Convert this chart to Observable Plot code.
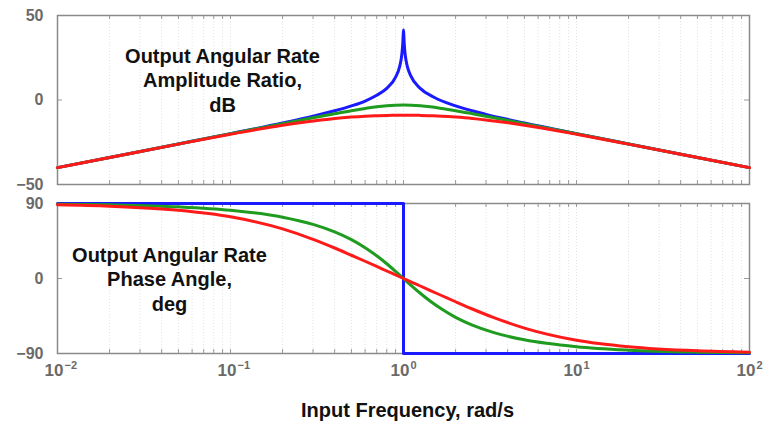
<!DOCTYPE html>
<html>
<head>
<meta charset="utf-8">
<script src="https://cdn.jsdelivr.net/npm/d3@7"></script>
<script src="https://cdn.jsdelivr.net/npm/@observablehq/plot@0.6"></script>
<style>
  html, body { margin: 0; padding: 0; background: #fff; }
  #chart { width: 765px; height: 421px; position: relative; }
  #chart svg { display: block; overflow: visible; }
</style>
</head>
<body>
<div id="chart"></div>
<script>
// ---------- data ----------
const freqBlue = [0.01,0.02,0.05,0.1,0.2,0.3,0.4,0.5,0.6,0.7,0.8,0.9,0.95,0.97,0.98,0.99,0.995,1,1.005,1.01,1.02,1.03,1.05,1.1,1.25,1.5,2,3,5,10,20,50,100];
const ampBlue  = [-40.0,-34.0,-26.0,-19.9,-13.6,-9.6,-6.4,-3.5,-0.6,2.8,6.9,13.5,19.8,24.3,27.9,33.2,37.6,41.4,37.6,33.3,27.9,24.6,20.2,14.4,6.9,1.6,-3.5,-8.5,-13.6,-19.9,-26.0,-34.0,-40.0];

const freq      = [0.01,0.02,0.05,0.1,0.2,0.3,0.4,0.5,0.6,0.7,0.8,0.9,1,1.11,1.25,1.43,1.67,2,2.5,3.33,5,10,20,50,100];
const ampGreen  = [-40.0,-34.0,-26.0,-20.0,-14.0,-10.5,-8.1,-6.3,-5.0,-4.0,-3.4,-3.1,-3.0,-3.1,-3.4,-4.0,-5.0,-6.3,-8.1,-10.5,-14.0,-20.0,-26.0,-34.0,-40.0];
const ampRed    = [-40.0,-34.0,-26.1,-20.3,-14.9,-12.4,-10.9,-10.1,-9.6,-9.3,-9.1,-9.05,-9.0,-9.05,-9.1,-9.3,-9.6,-10.1,-10.9,-12.4,-14.9,-20.3,-26.1,-34.0,-40.0];
const phaseGreen = [89.2,88.4,86.0,81.9,73.6,65.0,56.0,46.7,37.0,27.3,17.7,8.5,0,-8.5,-17.7,-27.3,-37.0,-46.7,-56.0,-65.0,-73.6,-81.9,-86.0,-88.4,-89.2];
const phaseRed   = [88.4,86.8,81.9,74.1,59.5,47.0,36.6,27.9,20.7,14.5,9.0,4.3,0,-4.3,-9.0,-14.5,-20.7,-27.9,-36.6,-47.0,-59.5,-74.1,-81.9,-86.8,-88.4];

const freqBluePhase = [0.01, 1, 1, 100];
const phaseBlue     = [90, 90, -90, -90];

const ampTicks   = [-50, 0, 50];
const phaseTicks = [-90, 0, 90];
const xMajors    = [0.01, 0.1, 1, 10, 100];
const xExponents = ["\u22122", "\u22121", "0", "1", "2"];
const ampNote    = "Output Angular Rate\nAmplitude Ratio,\ndB";
const phaseNote  = "Output Angular Rate\nPhase Angle,\ndeg";
const xTitle     = "Input Frequency, rad/s";

// ---------- styling ----------
const FONT = "'Liberation Sans', Arial, Helvetica, sans-serif";
const C_BLUE = "#1a1aff", C_GREEN = "#1f9b1f", C_RED = "#ff1a1a";
const W = 765, ML = 57, MR = 16;
const FW = W - ML - MR;
const allTicks = d3.scaleLog().domain([0.01, 100]).ticks();
const fmt = d => d < 0 ? "\u2212" + (-d) : String(d);

const toRows = (xs, ys) => xs.map((x, i) => ({x, y: ys[i]}));

function commonMarks(H, yTicks) {
  return [
    Plot.ruleX(allTicks, {x: d => d, stroke: "#e2e2e2", strokeWidth: 1, strokeDasharray: "1,2"}),
    Plot.tickX(allTicks, {x: d => d, insetBottom: H - 4, stroke: "#9a9a9a"}),
    Plot.tickX(allTicks, {x: d => d, insetTop: H - 4, stroke: "#9a9a9a"}),
    Plot.tickY(yTicks, {y: d => d, insetRight: FW - 5, stroke: "#9a9a9a"}),
    Plot.tickY(yTicks, {y: d => d, insetLeft: FW - 5, stroke: "#9a9a9a"}),
    Plot.frame({stroke: "#8a8a8a", strokeWidth: 1.5}),
    Plot.axisY(yTicks, {anchor: "left", tickSize: 0, tickPadding: 14, tickFormat: fmt,
      fill: "#6a6a6a", fontSize: 16, fontWeight: "bold", label: null})
  ];
}

// ---------- top panel: amplitude ratio ----------
const topH = 190, topMT = 15, topMB = 6;
const ampPlot = Plot.plot({
  width: W, height: topH,
  marginLeft: ML, marginRight: MR, marginTop: topMT, marginBottom: topMB,
  style: {fontFamily: FONT, background: "transparent", overflow: "visible"},
  x: {type: "log", domain: [0.01, 100], axis: null},
  y: {domain: [-50, 50], axis: null},
  marks: [
    ...commonMarks(topH - topMT - topMB, ampTicks),
    Plot.line(toRows(freqBlue, ampBlue), {x: "x", y: "y", stroke: C_BLUE, strokeWidth: 3, curve: "monotone-x"}),
    Plot.line(toRows(freq, ampGreen), {x: "x", y: "y", stroke: C_GREEN, strokeWidth: 3, curve: "monotone-x"}),
    Plot.line(toRows(freq, ampRed), {x: "x", y: "y", stroke: C_RED, strokeWidth: 3, curve: "monotone-x"}),
    Plot.text([ampNote], {text: d => d, frameAnchor: "top-left", lineAnchor: "top", textAnchor: "middle",
      dx: 165, dy: 30, fontSize: 20, fontWeight: "bold", fill: "#111", lineHeight: 1.22})
  ]
});

// ---------- bottom panel: phase angle ----------
const botH = 231, botMT = 13, botMB = 68;
const phasePlot = Plot.plot({
  width: W, height: botH,
  marginLeft: ML, marginRight: MR, marginTop: botMT, marginBottom: botMB,
  style: {fontFamily: FONT, background: "transparent", overflow: "visible"},
  x: {type: "log", domain: [0.01, 100], axis: null},
  y: {domain: [-90, 90], axis: null},
  marks: [
    ...commonMarks(botH - botMT - botMB, phaseTicks),
    Plot.line(toRows(freqBluePhase, phaseBlue), {x: "x", y: "y", stroke: C_BLUE, strokeWidth: 3}),
    Plot.line(toRows(freq, phaseGreen), {x: "x", y: "y", stroke: C_GREEN, strokeWidth: 3, curve: "monotone-x"}),
    Plot.line(toRows(freq, phaseRed), {x: "x", y: "y", stroke: C_RED, strokeWidth: 3, curve: "monotone-x"}),
    Plot.text([phaseNote], {text: d => d, frameAnchor: "top-left", lineAnchor: "top", textAnchor: "middle",
      dx: 112, dy: 41, fontSize: 20, fontWeight: "bold", fill: "#111", lineHeight: 1.22}),
    Plot.text(xMajors, {x: d => d, text: () => "10", frameAnchor: "bottom", lineAnchor: "top",
      textAnchor: "end", dx: 6, dy: 10, fontSize: 17, fontWeight: "bold", fill: "#6a6a6a"}),
    Plot.text(xMajors, {x: d => d, text: (d, i) => xExponents[i], frameAnchor: "bottom", lineAnchor: "top",
      textAnchor: "start", dx: 7, dy: 8, fontSize: 11, fontWeight: "bold", fill: "#6a6a6a"}),
    Plot.text([xTitle], {text: d => d, frameAnchor: "bottom", lineAnchor: "top", textAnchor: "middle",
      dx: 4, dy: 49, fontSize: 20, fontWeight: "bold", fill: "#111"})
  ]
});

const chart = document.getElementById("chart");
chart.appendChild(ampPlot);
chart.appendChild(phasePlot);
</script>
</body>
</html>
